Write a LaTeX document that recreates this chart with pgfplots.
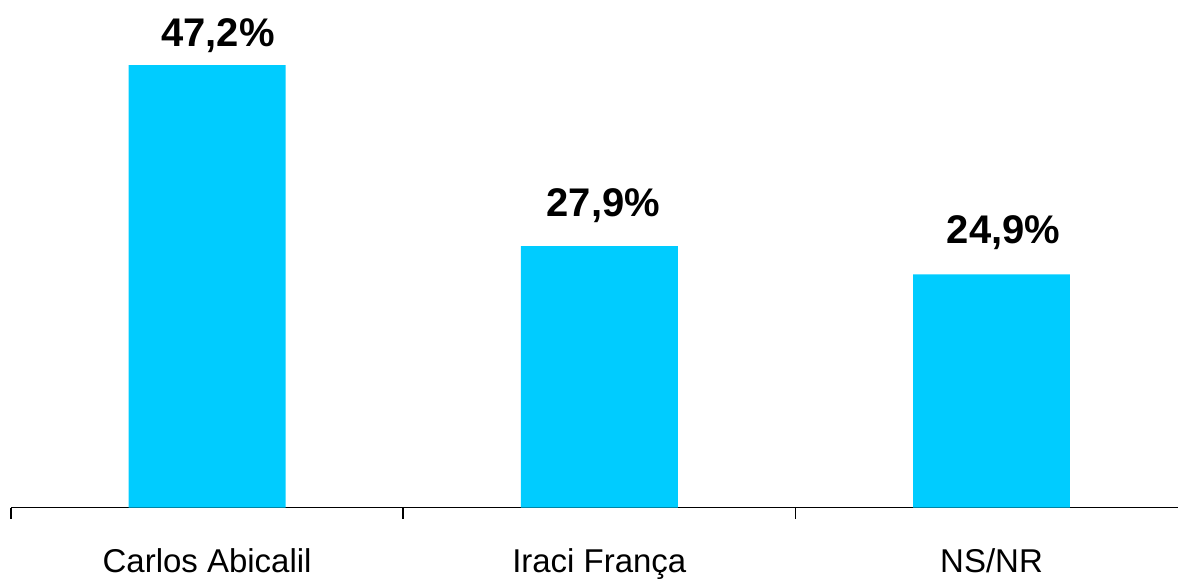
\documentclass[border=0pt]{standalone}
\usepackage{fontspec}
\setmainfont{Liberation Sans}
\usepackage{pgfplots}
\usepackage{pgfplotstable}
\pgfplotsset{compat=1.18}
\definecolor{barcyan}{RGB}{0,204,255}

% x, value, label offset above bar and sideways (pt)
\pgfplotstableread{
x y off dx
0 47.2 19 11
1 27.9 30 4
2 24.9 31 12
}\votos

\begin{document}
\begin{tikzpicture}
\path (-11pt,0) (0,508pt);
\begin{axis}[
    at={(0,0)}, anchor=south west,
    width=1168pt, height=508pt,
    scale only axis,
    clip=false,
    ybar,
    bar width=0.4,
    xmin=-0.5, xmax=2.476,
    ymin=0, ymax=54.16,
    axis x line*=bottom,
    axis y line=none,
    x axis line style={black, line width=1.6pt},
    xtick={0,1,2},
    xticklabels={Carlos Abicalil, Iraci França, NS/NR},
    major tick length=0pt,
    minor xtick={-0.5,0.5,1.5},
    minor tick length=11pt,
    tick align=outside,
    minor tick style={black, line width=1.6pt},
    xticklabel style={font=\fontsize{33}{38}\selectfont, yshift=-37pt},
    nodes near coords={\pgfmathprintnumber[fixed, fixed zerofill, precision=1, use comma, assume math mode=true]{\pgfplotspointmeta}\%},
    visualization depends on={\thisrow{off} \as \off},
    visualization depends on={\thisrow{dx} \as \dx},
    nodes near coords style={font=\fontsize{40}{46}\selectfont\bfseries, anchor=base, yshift=\off pt, xshift=\dx pt, inner sep=0pt},
]
\addplot[fill=barcyan, draw=none] table[x=x, y=y] {\votos};
\end{axis}
\end{tikzpicture}
\end{document}
